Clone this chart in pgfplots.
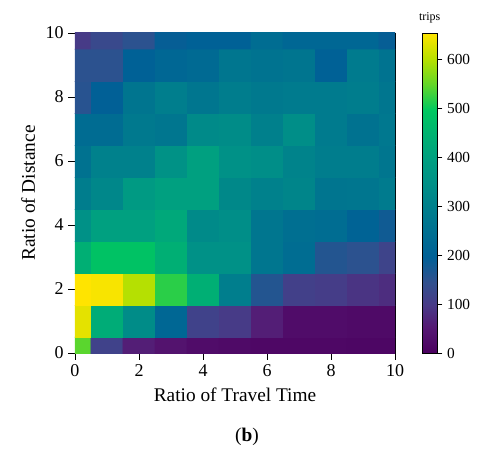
\documentclass[border=0pt]{standalone}
\usepackage{pgfplots}
\pgfplotsset{compat=1.18}
\usepackage{fontspec}
\setmainfont{Liberation Serif}

% colour scale as it appears in the figure (a vivid viridis)
\pgfplotsset{
    colormap={trips}{
        rgb255(0pt)=(75,0,95)
        rgb255(8pt)=(85,25,115)
        rgb255(15pt)=(72,58,135)
        rgb255(22pt)=(50,80,142)
        rgb255(30pt)=(0,96,150)
        rgb255(38pt)=(0,112,145)
        rgb255(46pt)=(0,128,140)
        rgb255(53pt)=(0,144,135)
        rgb255(61pt)=(0,160,128)
        rgb255(69pt)=(0,180,112)
        rgb255(76pt)=(0,200,96)
        rgb255(84pt)=(100,215,40)
        rgb255(92pt)=(185,224,0)
        rgb255(100pt)=(255,228,0)
    }
}

% trips per cell, rows y = 0..10, columns x = 0..10
\pgfplotstableread{
x y c
0 0 545
1 0 115
2 0 60
3 0 40
4 0 25
5 0 20
6 0 15
7 0 15
8 0 15
9 0 12
10 0 12
0 1 635
1 1 430
2 1 335
3 1 220
4 1 115
5 1 100
6 1 60
7 1 25
8 1 25
9 1 20
10 1 20
0 2 655
1 2 650
2 2 600
3 2 520
4 2 440
5 2 295
6 2 160
7 2 110
8 2 105
9 2 90
10 2 80
0 3 440
1 3 485
2 3 485
3 3 440
4 3 350
5 3 350
6 3 270
7 3 240
8 3 160
9 3 150
10 3 120
0 4 350
1 4 400
2 4 400
3 4 420
4 4 330
5 4 340
6 4 270
7 4 245
8 4 240
9 4 205
10 4 180
0 5 290
1 5 320
2 5 380
3 5 400
4 5 400
5 5 325
6 5 305
7 5 315
8 5 265
9 5 270
10 5 285
0 6 255
1 6 305
2 6 305
3 6 355
4 6 400
5 6 350
6 6 340
7 6 310
8 6 290
9 6 290
10 6 270
0 7 235
1 7 235
2 7 280
3 7 270
4 7 330
5 7 335
6 7 300
7 7 340
8 7 285
9 7 255
10 7 275
0 8 155
1 8 195
2 8 265
3 8 295
4 8 270
5 8 290
6 8 280
7 8 285
8 8 285
9 8 290
10 8 270
0 9 150
1 9 150
2 9 200
3 9 220
4 9 230
5 9 270
6 9 260
7 9 265
8 9 200
9 9 285
10 9 260
0 10 100
1 10 130
2 10 150
3 10 190
4 10 200
5 10 200
6 10 240
7 10 220
8 10 220
9 10 220
10 10 190
}\tripdata

\begin{document}
\begin{tikzpicture}
\begin{axis}[
    at={(0,0)}, anchor=south west,
    scale only axis,
    width=240pt, height=240pt,
    xmin=0, xmax=10, ymin=0, ymax=10,
    xtick={0,2,...,10}, ytick={0,2,...,10},
    tick align=outside,
    xtick pos=bottom, ytick pos=left,
    major tick length=5pt,
    tick style={black, line width=0.6pt},
    axis line style={line width=0.6pt},
    /pgf/number format/assume math mode=true,
    tick label style={font=\fontsize{13.5}{15}\selectfont},
    label style={font=\fontsize{14.5}{17}\selectfont},
    xlabel={Ratio of Travel Time},
    ylabel={Ratio of Distance},
    xlabel style={yshift=-2pt},
    ylabel style={yshift=1pt},
    colormap name=trips,
    point meta min=0, point meta max=655,
    colorbar,
    colorbar style={
        at={(parent axis.north east)}, anchor=north west,
        xshift=12pt,
        width=11pt,
        ytick={0,100,...,600},
        tick align=outside,
        major tick length=4pt,
        ytick pos=right,
        yticklabel pos=right,
        /pgf/number format/assume math mode=true,
        yticklabel style={font=\fontsize{11.5}{13}\selectfont},
        title={trips},
        title style={font=\fontsize{9}{11}\selectfont, yshift=-2pt},
    },
]
\addplot[matrix plot*, mesh/cols=11, point meta=explicit]
    table[x=x, y=y, meta=c] {\tripdata};
\end{axis}
\node[font=\fontsize{14.5}{17}\selectfont] at (129pt,-63pt) {(\textbf{b})};
\pgfresetboundingbox
\useasboundingbox (-56.25pt,-72.75pt) rectangle (302.25pt,264.75pt);
\end{tikzpicture}
\end{document}
